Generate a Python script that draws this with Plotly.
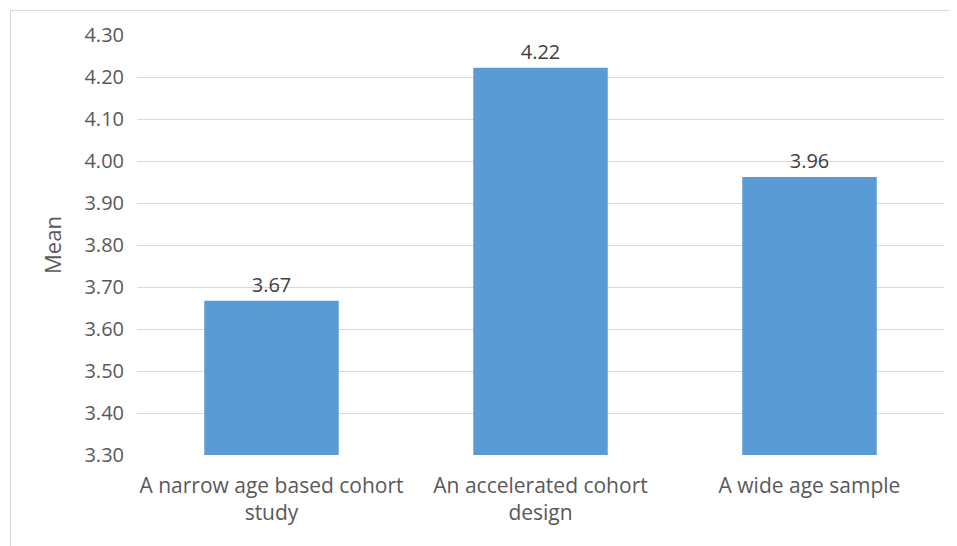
import plotly.graph_objects as go

categories = ["A narrow age based cohort<br>study", "An accelerated cohort<br>design", "A wide age sample"]
values = [3.667, 4.222, 3.962]
labels = ["3.67", "4.22", "3.96"]
ytick_vals = [3.3, 3.4, 3.5, 3.6, 3.7, 3.8, 3.9, 4.0, 4.1, 4.2, 4.3]

OFF = 8  # page body margin
W, H = 957 - OFF, 546 - OFF
ml, mr, mt, mb = 137 - OFF, 13, 35 - OFF, 91
FONT = "Open Sans, Noto Sans, sans-serif"
GRAY = "#595959"

fig = go.Figure(go.Bar(
    x=categories, y=values, text=labels, textposition="outside",
    textfont=dict(family=FONT, size=20, color="#404040"),
    marker=dict(color="#5B9BD5", line=dict(width=0)),
    width=0.5, cliponaxis=False,
))

pw = W - ml - mr
ph = H - mt - mb
bx0 = 10.5 - OFF
by0 = 10.5 - OFF
fig.add_shape(type="rect", xref="paper", yref="paper",
              x0=(bx0 - ml) / pw, x1=(W + 5 - ml) / pw,
              y0=-(mb + 5) / ph, y1=1 + (mt - by0) / ph,
              line=dict(color="#D9D9D9", width=1), fillcolor="rgba(0,0,0,0)", layer="below")

fig.update_layout(
    width=W, height=H,
    margin=dict(l=ml, r=mr, t=mt, b=mb),
    plot_bgcolor="white", paper_bgcolor="white",
    showlegend=False,
    font=dict(family=FONT, color=GRAY),
    bargap=0.5,
    xaxis=dict(showgrid=False, showline=False, ticks="",
               ticklabelstandoff=16,
               tickfont=dict(family=FONT, size=21, color=GRAY)),
    yaxis=dict(range=[3.3, 4.3], tickvals=ytick_vals, tickformat=".2f",
               showgrid=True, gridcolor="#D9D9D9", gridwidth=1,
               zeroline=False, showline=False, ticks="",
               ticklabelstandoff=12,
               tickfont=dict(family=FONT, size=20, color=GRAY),
               title=dict(text="Mean", font=dict(family=FONT, size=22, color=GRAY), standoff=16)),
)

fig.write_html("out.html")
